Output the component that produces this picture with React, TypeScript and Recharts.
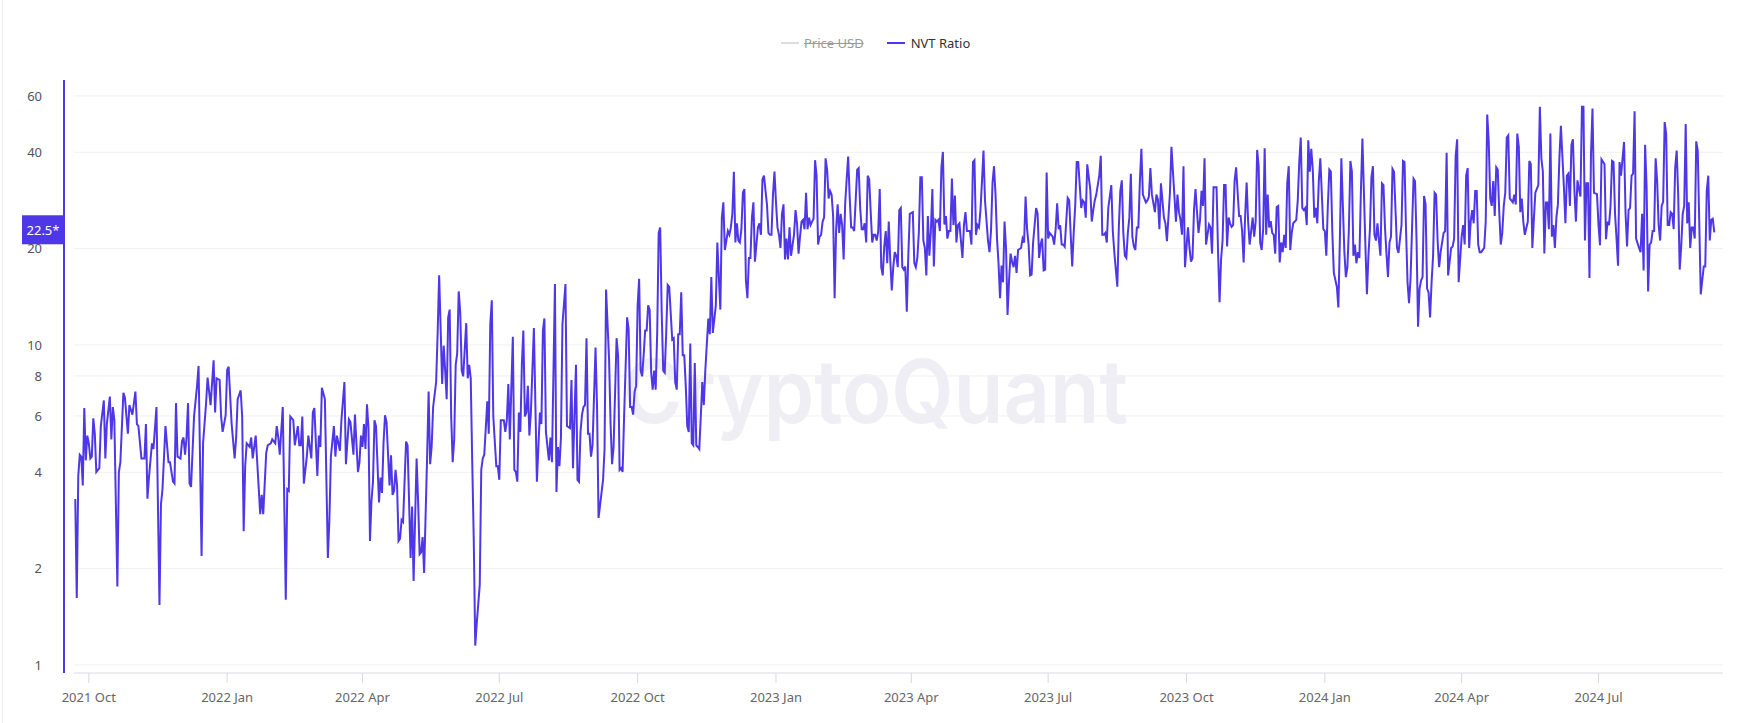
import { LineChart, Line, XAxis, YAxis, CartesianGrid, ReferenceLine } from "recharts";

// day offsets counted from baseDate
const baseDate = "2021-09-22";

const dayOffsets = [
  0, 1, 2, 3, 4, 5, 6, 7, 8, 9, 10, 11,
  12, 13, 14, 16, 17, 19, 20, 21, 23, 24, 25, 26,
  28, 29, 30, 32, 33, 35, 36, 38, 40, 41, 42, 44,
  46, 47, 48, 49, 51, 52, 54, 56, 57, 58, 60, 62,
  63, 65, 66, 67, 68, 70, 71, 72, 73, 74, 75, 76,
  77, 79, 81, 82, 84, 85, 87, 88, 90, 92, 93, 94,
  96, 97, 98, 100, 101, 102, 104, 106, 107, 108, 110, 111,
  112, 113, 114, 116, 117, 118, 120, 123, 124, 125, 127, 128,
  130, 131, 133, 134, 135, 136, 138, 140, 141, 142, 143, 145,
  146, 148, 149, 150, 151, 152, 154, 155, 157, 158, 159, 161,
  162, 163, 164, 166, 168, 169, 170, 172, 173, 174, 176, 177,
  179, 180, 182, 183, 185, 186, 188, 189, 190, 191, 192, 193,
  194, 195, 196, 197, 198, 199, 200, 202, 203, 204, 205, 206,
  207, 209, 210, 211, 212, 213, 214, 215, 216, 217, 218, 220,
  221, 223, 224, 225, 227, 228, 229, 230, 231, 232, 234, 235,
  236, 237, 238, 240, 241, 242, 243, 244, 245, 246, 247, 248,
  249, 250, 251, 252, 253, 254, 255, 256, 257, 258, 260, 261,
  262, 263, 264, 265, 266, 267, 269, 270, 271, 272, 274, 275,
  276, 277, 278, 280, 281, 282, 283, 285, 286, 287, 288, 289,
  291, 292, 293, 294, 295, 296, 297, 298, 299, 300, 301, 302,
  303, 305, 307, 309, 310, 311, 312, 313, 315, 316, 317, 319,
  320, 321, 322, 323, 324, 326, 327, 329, 330, 331, 333, 334,
  335, 336, 337, 338, 339, 340, 341, 342, 343, 344, 346, 347,
  348, 351, 352, 353, 355, 356, 357, 358, 360, 361, 362,
  363, 364, 365, 367, 368, 369, 370, 371, 372, 373, 374, 375,
  376, 377, 378, 379, 380, 381, 382, 383, 384, 385, 386, 387,
  388, 389, 390, 391, 392, 393, 394, 395, 397, 398, 399, 400,
  401, 402, 403, 404, 405, 406, 407, 408, 409, 410, 411, 412,
  413, 414, 415, 416, 417, 418, 419, 421, 422, 423, 424, 426,
  427, 428, 429, 430, 431, 432, 433, 434, 435, 436, 437, 438,
  439, 440, 441, 442, 443, 444, 445, 446, 447, 448, 449, 450,
  451, 452, 453, 454, 455, 456, 457, 458, 460, 461, 462, 463,
  464, 465, 466, 467, 468, 469, 470, 471, 472, 473, 474, 475,
  476, 478, 479, 480, 481, 482, 483, 484, 485, 486, 487, 488,
  489, 490, 491, 492, 493, 494, 495, 496, 497, 498, 499, 500,
  501, 502, 503, 504, 505, 506, 507, 508, 509, 510, 511, 512,
  513, 514, 515, 516, 517, 518, 520, 521, 522, 523, 524, 525,
  526, 527, 528, 529, 530, 531, 532, 533, 534, 535, 536, 537,
  538, 539, 540, 541, 542, 543, 544, 545,
  546, 547, 548, 549, 550, 551, 552, 553, 554, 555, 557, 558,
  559, 560, 561, 562, 563, 564, 565, 566, 567, 568, 569, 570,
  571, 572, 573, 574, 575, 576, 577, 578, 579, 580, 581, 582,
  583, 584, 585, 586, 587, 588, 590, 591, 592, 593, 595, 596,
  597, 598, 599, 600, 601, 602, 603, 604, 605, 607, 608, 609,
  610, 611, 612, 613, 614, 615, 616, 617, 618, 619, 620, 621,
  622, 623, 624, 625, 626, 627, 629, 630, 631, 632, 633, 634,
  635, 636, 637, 639, 640, 641, 642, 643, 644, 645, 646, 647,
  648, 650, 651, 652, 653, 654, 655, 656, 657, 658, 660, 661,
  662, 663, 664, 665, 666, 667, 669, 670, 671, 672, 673, 675,
  676, 677, 678, 679, 681, 682, 683, 684, 685, 686, 687, 689,
  690, 691, 693, 694, 695, 696, 697, 698, 699, 700, 701, 702,
  703, 704, 705, 706, 707, 708, 709, 710, 712, 713, 714, 715,
  716, 718, 719, 720, 721, 722, 724, 725, 726, 728, 729,
  732, 733, 734, 735, 736, 737, 738, 740, 741, 742, 743, 744,
  745, 746, 747, 748, 749, 750, 751, 752, 754, 755, 756, 757,
  759, 760, 761, 762, 763, 764, 765, 766, 767, 768, 769, 770,
  771, 772, 774, 775, 776, 777, 778, 779, 780, 781, 783, 784,
  785, 786, 787, 788, 789, 790, 791, 792, 793, 794, 795, 796,
  797, 798, 799, 800, 801, 802, 803, 804, 805, 806, 807, 808,
  809, 810, 812, 813, 814, 815, 816, 817, 818, 819, 820, 821,
  822, 823, 824, 825, 826, 827, 828, 830, 831, 832, 833, 834,
  835, 836, 837, 839, 840, 841, 842, 843, 844, 845, 846, 847,
  848, 849, 850, 851, 852, 853, 854, 855, 856, 858, 859, 860,
  861, 862, 863, 864, 865, 866, 867, 868, 869, 870, 871, 872,
  873, 874, 875, 876, 877, 879, 880, 881, 882, 883, 884, 885,
  886, 887, 888, 890, 891, 892, 893, 894, 895, 896, 897, 898,
  899, 900, 901, 902, 903, 904, 905, 906, 907, 908, 910, 911, 912,
  913, 915, 916, 917, 918, 919, 920, 921, 922, 923, 924, 925,
  926, 927, 928, 929, 930, 931, 932, 933, 934, 935, 937, 938,
  939, 940, 941, 942, 943, 944, 945, 946, 947, 948, 949, 950,
  951, 952, 953, 954, 956, 957, 958, 959, 960, 961, 962, 963,
  964, 966, 967, 968, 969, 970, 971, 973, 974, 975, 976, 977,
  978, 979, 980, 981, 982, 983, 984, 985, 986, 987, 988, 990,
  991, 992, 993, 994, 995, 996, 997, 998, 999, 1000, 1001, 1002,
  1003, 1004, 1005, 1006, 1007, 1008, 1009, 1010, 1012, 1013, 1014, 1015,
  1017, 1018, 1019, 1020, 1021, 1022, 1023, 1024, 1025, 1026, 1027, 1028,
  1029, 1030, 1031, 1032, 1033, 1034, 1035, 1036, 1037, 1038, 1040, 1041,
  1042, 1043, 1044, 1045, 1046, 1047, 1048, 1049, 1050, 1051, 1052, 1053,
  1054, 1055, 1056, 1057, 1058, 1059, 1060, 1061, 1062, 1063, 1064, 1065,
  1066, 1067, 1068, 1069, 1070, 1071, 1072, 1073, 1074, 1075, 1076, 1077,
  1078, 1079, 1080, 1081, 1083, 1084, 1085, 1086, 1087, 1088, 1089, 1090,
];

const nvtRatio = [
  3.3, 1.62, 3.9, 4.54, 4.48, 3.64, 6.35, 4.36, 5.21, 4.93, 4.42, 4.48,
  5.9, 5.28, 4.01, 4.12, 5.58, 6.71, 4.42, 5.66, 6.9, 5.07, 6.4, 5.82,
  1.76, 4.01, 4.3, 7.09, 6.86, 5.28, 6.49, 6.06, 7.15, 5.66, 5.58, 4.42,
  4.42, 5.66, 3.31, 3.85, 4.93, 4.73, 6.4, 1.54, 3.18, 3.54, 5.58, 4.3,
  4.3, 3.74, 3.69, 6.58, 4.48, 4.42, 5.0, 5.14, 4.54, 5.14, 6.58, 3.69,
  3.6, 5.98, 7.45, 8.6, 2.19, 4.93, 6.58, 7.91, 6.49, 8.96, 6.15, 7.87,
  7.78, 5.98, 5.35, 6.02, 8.36, 8.55, 5.66, 4.42, 5.14, 6.77, 7.21, 5.98,
  2.62, 4.18, 4.93, 4.8, 5.14, 4.42, 5.21, 2.96, 3.4, 2.96, 4.6, 4.86,
  4.93, 5.07, 4.93, 5.58, 5.14, 4.54, 6.4, 1.6, 3.54, 3.5, 5.98, 5.82,
  4.86, 5.58, 4.86, 4.86, 5.98, 3.69, 4.48, 5.21, 4.42, 6.15, 6.35, 3.9,
  5.21, 4.8, 7.35, 6.77, 2.16, 2.84, 4.48, 5.58, 4.48, 5.21, 4.67, 5.82,
  7.66, 4.24, 5.85, 5.74, 4.54, 6.06, 4.01, 4.3, 5.21, 4.8, 5.66, 4.73,
  6.53, 5.5, 2.44, 3.26, 3.74, 5.82, 5.58, 3.22, 3.85, 3.45, 4.93, 6.03,
  5.74, 3.64, 4.52, 3.4, 3.5, 4.07, 3.64, 2.44, 2.48, 2.84, 2.8, 4.99,
  4.86, 2.16, 3.13, 1.83, 4.42, 3.26, 2.22, 2.25, 2.51, 1.94, 4.48, 7.15,
  4.24, 4.8, 6.4, 7.66, 10.9, 16.5, 11.2, 7.55, 9.95, 8.32, 6.77, 12.2,
  12.9, 5.98, 4.3, 5.07, 8.67, 9.41, 14.7, 12.7, 8.32, 7.98, 11.7, 7.87,
  8.67, 7.87, 4.3, 2.48, 1.15, 1.35, 1.78, 4.07, 4.42, 4.54, 6.67, 5.28,
  11.6, 13.8, 5.98, 4.18, 4.18, 3.79, 5.82, 5.82, 5.35, 5.82, 7.55, 5.07,
  10.6, 4.07, 4.01, 3.74, 6.15, 5.35, 8.67, 11.1, 5.98, 6.15, 7.45, 5.21,
  6.15, 11.3, 3.74, 6.15, 5.66, 11.1, 12.1, 5.35, 4.36, 5.14, 4.3, 15.5,
  3.47, 4.8, 4.18, 5.14, 11.6, 15.5, 5.58, 5.5, 7.77, 4.12, 8.67, 3.79,
  3.74, 5.35, 6.06, 6.4, 6.49, 10.5, 5.28, 5.28, 4.48, 4.86, 9.81, 6.4,
  2.88, 3.79, 4.73, 14.9, 9.03, 5.66, 4.24, 4.8, 10.5, 9.23, 4.07,
  4.12, 4.01, 5.98, 12.2, 11.2, 6.4, 6.4, 6.06, 7.15, 7.45, 13.3, 16.1,
  8.32, 7.98, 9.28, 11.1, 11.1, 13.3, 12.9, 8.2, 7.25, 8.32, 7.25, 10.9,
  22.4, 23.3, 12.6, 8.32, 8.2, 10.9, 15.4, 15.2, 10.4, 10.5, 7.66, 7.25,
  10.8, 10.8, 14.6, 9.28, 9.28, 7.45, 5.58, 5.35, 10.1, 4.93, 4.86, 8.79,
  4.86, 4.8, 4.73, 5.98, 7.66, 6.49, 8.32, 12.1, 10.8, 16.3, 10.9, 13.3,
  20.9, 16.3, 12.9, 25.0, 27.9, 19.8, 21.2, 22.7, 22.1, 23.3, 25.7, 34.8,
  20.9, 24.0, 21.2, 20.9, 23.0, 29.9, 30.7, 15.9, 14.0, 18.7, 18.7, 25.0,
  27.9, 18.2, 20.6, 23.3, 24.0, 22.1, 32.9, 33.8, 27.5, 22.4, 22.1, 22.1,
  29.5, 34.8, 27.9, 23.3, 22.1, 20.1, 25.7, 27.5, 18.5, 21.5, 18.5, 23.3,
  19.0, 22.1, 26.4, 24.0, 19.3, 21.8, 24.3, 24.6, 23.0, 29.9, 23.0, 25.0,
  23.7, 24.3, 24.8, 37.8, 33.8, 20.6, 21.8, 22.1, 24.3, 25.0, 38.3, 35.3,
  28.7, 30.3, 29.5, 25.3, 14.0, 23.0, 27.5, 22.4, 25.7, 23.7, 18.5, 27.5,
  32.9, 38.8, 29.1, 23.3, 23.3, 22.7, 35.3, 35.7, 26.8, 23.0, 23.0, 24.0,
  20.9, 33.8, 32.9, 26.0, 20.9, 22.1, 22.1, 21.2, 22.7, 30.7, 17.5, 16.5,
  20.3, 22.7, 18.0, 24.3, 18.5, 14.8, 17.5, 19.5,
  19.0, 17.5, 26.4, 26.8, 17.5, 17.2, 17.6, 12.7, 19.0, 25.7, 26.0, 18.0,
  17.5, 18.7, 22.4, 33.4, 33.4, 21.2, 20.1, 16.5, 25.3, 19.0, 22.7, 30.7,
  17.6, 24.6, 24.3, 24.6, 22.7, 35.7, 40.1, 23.8, 25.3, 21.5, 22.7, 22.7,
  33.1, 23.7, 29.3, 20.9, 23.7, 24.0, 18.7, 23.7, 26.0, 22.7, 22.7, 20.6,
  37.3, 37.8, 22.1, 23.7, 23.3, 26.4, 32.5, 40.5, 28.3, 21.2, 19.5, 22.7,
  32.0, 36.2, 29.5, 21.5, 18.0, 14.0, 17.7, 15.7, 24.3, 20.1, 12.4, 15.9,
  19.3, 18.2, 17.5, 19.0, 16.8, 19.8, 20.1, 21.5, 20.9, 29.1, 23.0, 20.6,
  16.5, 16.6, 20.9, 26.8, 25.7, 18.7, 20.6, 21.5, 17.1, 17.2, 34.6, 21.5,
  22.4, 21.8, 20.6, 23.0, 27.7, 23.0, 23.7, 20.6, 20.6, 20.3, 28.8, 28.3,
  22.1, 17.6, 22.4, 27.2, 37.3, 37.3, 26.8, 28.3, 27.9, 25.0, 36.7, 30.7,
  24.3, 26.4, 28.3, 29.5, 33.8, 39.0, 22.1, 22.1, 22.4, 20.9, 26.8, 31.6,
  22.7, 19.5, 15.2, 23.3, 30.3, 32.7, 22.4, 19.0, 18.7, 22.4, 25.0, 34.3,
  21.8, 20.3, 19.8, 23.3, 23.3, 32.5, 41.0, 29.5, 27.9, 28.3, 29.1, 35.7,
  29.5, 26.0, 29.5, 28.5, 23.0, 32.0, 25.0, 24.0, 21.1, 29.9, 41.6,
  24.3, 29.5, 26.0, 24.6, 22.1, 36.2, 17.5, 23.3, 20.1, 18.2, 18.7, 26.4,
  30.7, 26.0, 22.4, 24.6, 30.3, 27.2, 38.3, 20.6, 23.8, 23.3, 19.3, 31.1,
  31.1, 19.5, 13.6, 18.5, 21.2, 31.6, 31.6, 20.3, 25.0, 24.0, 23.4, 23.7,
  32.5, 35.9, 25.3, 25.3, 22.7, 18.1, 25.3, 32.2, 24.3, 20.6, 25.0, 21.8,
  24.3, 40.7, 36.2, 20.9, 19.8, 23.0, 41.2, 22.1, 29.5, 23.3, 24.4, 22.4,
  22.1, 19.3, 27.0, 27.2, 18.1, 20.9, 19.5, 22.1, 20.1, 32.0, 36.2, 19.8,
  22.4, 24.0, 24.6, 28.3, 37.3, 44.5, 26.8, 26.4, 26.8, 23.7, 43.6, 34.8,
  41.0, 35.3, 25.0, 26.8, 24.0, 32.5, 38.3, 23.0, 22.7, 19.0, 27.2, 35.3,
  34.8, 22.4, 16.8, 15.2, 13.1, 21.2, 38.3, 27.2, 19.5, 16.3, 17.5, 23.0,
  37.6, 34.8, 19.0, 20.6, 18.0, 19.5, 18.7, 30.3, 44.2, 20.3, 14.4, 19.0,
  23.0, 33.4, 36.2, 22.1, 21.2, 24.0, 21.2, 19.0, 32.0, 31.6, 23.3, 19.3,
  16.3, 20.9, 21.8, 35.5, 34.8, 20.1, 19.4, 21.5, 23.7, 37.6, 37.3, 23.0,
  15.7, 13.5, 16.1, 33.1, 32.5, 21.2, 11.4, 15.0, 15.9, 16.3, 29.2, 27.5,
  15.0, 14.6, 12.2, 15.7, 19.0, 29.9, 29.5, 21.2, 17.5, 19.5, 22.4, 22.7, 39.9,
  16.5, 20.1, 20.3, 21.5, 38.8, 43.9, 15.7, 18.5, 21.8, 23.7, 20.6, 33.8,
  35.7, 20.1, 24.3, 26.4, 24.0, 30.3, 30.3, 20.6, 19.5, 19.5, 20.1, 24.3,
  52.5, 43.3, 28.7, 27.2, 32.5, 25.3, 35.9, 35.3, 26.0, 20.6, 22.4, 27.2,
  29.9, 44.5, 45.2, 28.7, 27.9, 29.5, 27.5, 45.8, 41.6, 26.0, 28.7, 24.3,
  22.1, 24.3, 37.6, 36.7, 20.1, 24.6, 29.9, 31.6, 55.5, 38.3, 34.8, 19.3,
  27.9, 27.9, 23.0, 45.8, 21.8, 23.7, 20.1, 25.0, 27.5, 38.3, 48.4, 31.1,
  24.0, 33.8, 34.3, 27.2, 42.2, 43.9, 30.3, 24.3, 32.7, 30.7, 29.1, 55.5,
  55.5, 21.2, 32.0, 32.0, 16.2, 39.4, 54.8, 29.9, 29.6, 23.7, 20.5, 38.0,
  36.7, 21.4, 24.3, 23.7, 27.2, 37.6, 37.3, 25.7, 21.5, 17.7, 37.3, 33.8,
  38.3, 43.1, 25.7, 20.3, 26.4, 26.8, 33.8, 34.3, 53.7, 21.5, 20.1, 19.5,
  25.7, 17.1, 42.2, 31.1, 14.7, 20.6, 20.9, 22.7, 22.7, 38.3, 32.5, 23.7,
  21.2, 27.2, 28.0, 49.7, 45.8, 23.7, 23.7, 26.0, 25.7, 23.0, 35.7, 40.5,
  29.5, 17.2, 20.3, 25.7, 27.2, 49.0, 24.0, 27.9, 20.1, 23.3, 23.3, 21.5,
  43.3, 40.5, 24.3, 14.4, 17.6, 17.6, 30.3, 33.8, 21.2, 24.6, 24.8, 22.5,
];

const xTickDates = [
  "2021-10-01", "2022-01-01", "2022-04-01", "2022-07-01", "2022-10-01", "2023-01-01",
  "2023-04-01", "2023-07-01", "2023-10-01", "2024-01-01", "2024-04-01", "2024-07-01",
];
const xTickLabels = [
  "2021 Oct", "2022 Jan", "2022 Apr", "2022 Jul", "2022 Oct", "2023 Jan",
  "2023 Apr", "2023 Jul", "2023 Oct", "2024 Jan", "2024 Apr", "2024 Jul",
];
const yTicks = [1, 2, 4, 6, 8, 10, 20, 40, 60];
const lastValue = 22.5;

const DAY_MS = 86400000;
const toDay = (s: string) => Math.round((Date.parse(s) - Date.parse(baseDate)) / DAY_MS);

const data = dayOffsets.map((day, i) => ({ day, nvt: nvtRatio[i] }));
const xTicks = xTickDates.map(toDay);

const PURPLE = "#4e37e6";
const FONT = '"Noto Sans", "Open Sans", Arial, sans-serif';

function LastValueTag(props: any) {
  const vb = props.viewBox;
  if (!vb) return null;
  return (
    <g>
      <rect x={vb.x - 52} y={vb.y - 17} width={42} height={29} fill={PURPLE} />
      <text x={vb.x - 31} y={vb.y + 2.5} textAnchor="middle" fill="#fff" fontSize={13} fontFamily={FONT}>
        {lastValue}*
      </text>
    </g>
  );
}

export default function App() {
  return (
    <div style={{ position: "absolute", left: 0, top: 0, width: 1744, height: 723, background: "#fff", overflow: "hidden" }}>
      <div style={{ position: "absolute", left: 2, top: 0, width: 1, height: 723, background: "#ececf0" }} />

      {/* watermark */}
      <svg width={1744} height={723} style={{ position: "absolute", left: 0, top: 0 }}>
        <text
          x={623}
          y={423}
          fontSize={88}
          fontWeight={600}
          fontFamily="Inter, sans-serif"
          fill="#efeef4"
          textLength={505}
          lengthAdjust="spacingAndGlyphs"
        >
          CryptoQuant
        </text>
      </svg>

      {/* legend */}
      <div
        style={{
          position: "absolute",
          left: 781,
          top: 34,
          height: 18,
          display: "flex",
          alignItems: "center",
          fontFamily: FONT,
          fontSize: 13,
          whiteSpace: "nowrap",
        }}
      >
        <span style={{ display: "inline-block", width: 18, height: 2, background: "#dcdce2" }} />
        <span style={{ marginLeft: 5, color: "#9a9a9a", textDecoration: "line-through" }}>Price USD</span>
        <span style={{ display: "inline-block", marginLeft: 23, width: 18, height: 2, background: PURPLE }} />
        <span style={{ marginLeft: 6, color: "#333" }}>NVT Ratio</span>
      </div>

      {/* y axis line */}
      <div style={{ position: "absolute", left: 63, top: 80, width: 2, height: 593, background: PURPLE }} />

      <div style={{ position: "absolute", left: 0, top: 0 }}>
        <LineChart width={1744} height={723} data={data} margin={{ top: 80, right: 21, bottom: 20, left: 0 }}>
          <CartesianGrid vertical={false} horizontalValues={yTicks} stroke="#f0f0f3" />
          <XAxis
            dataKey="day"
            type="number"
            domain={[-0.84, 1095.8]}
            allowDataOverflow
            ticks={xTicks}
            interval={0}
            tickFormatter={(v: number) => xTickLabels[xTicks.indexOf(v)] ?? ""}
            height={30}
            tickSize={10}
            tickMargin={10}
            axisLine={{ stroke: "#d8d8e2" }}
            tickLine={{ stroke: "#d8d8e2" }}
            tick={{ fill: "#666", fontSize: 13, fontFamily: FONT }}
          />
          <YAxis
            type="number"
            scale="log"
            domain={[0.944, 67.3]}
            allowDataOverflow
            ticks={yTicks}
            interval={0}
            width={74}
            tickSize={0}
            tickMargin={32}
            axisLine={false}
            tickLine={false}
            tick={{ fill: "#555", fontSize: 13, fontFamily: FONT }}
          />
          <ReferenceLine y={lastValue} stroke="none" label={<LastValueTag />} />
          <Line
            type="linear"
            dataKey="nvt"
            stroke={PURPLE}
            strokeWidth={2}
            dot={false}
            isAnimationActive={false}
          />
        </LineChart>
      </div>
    </div>
  );
}
